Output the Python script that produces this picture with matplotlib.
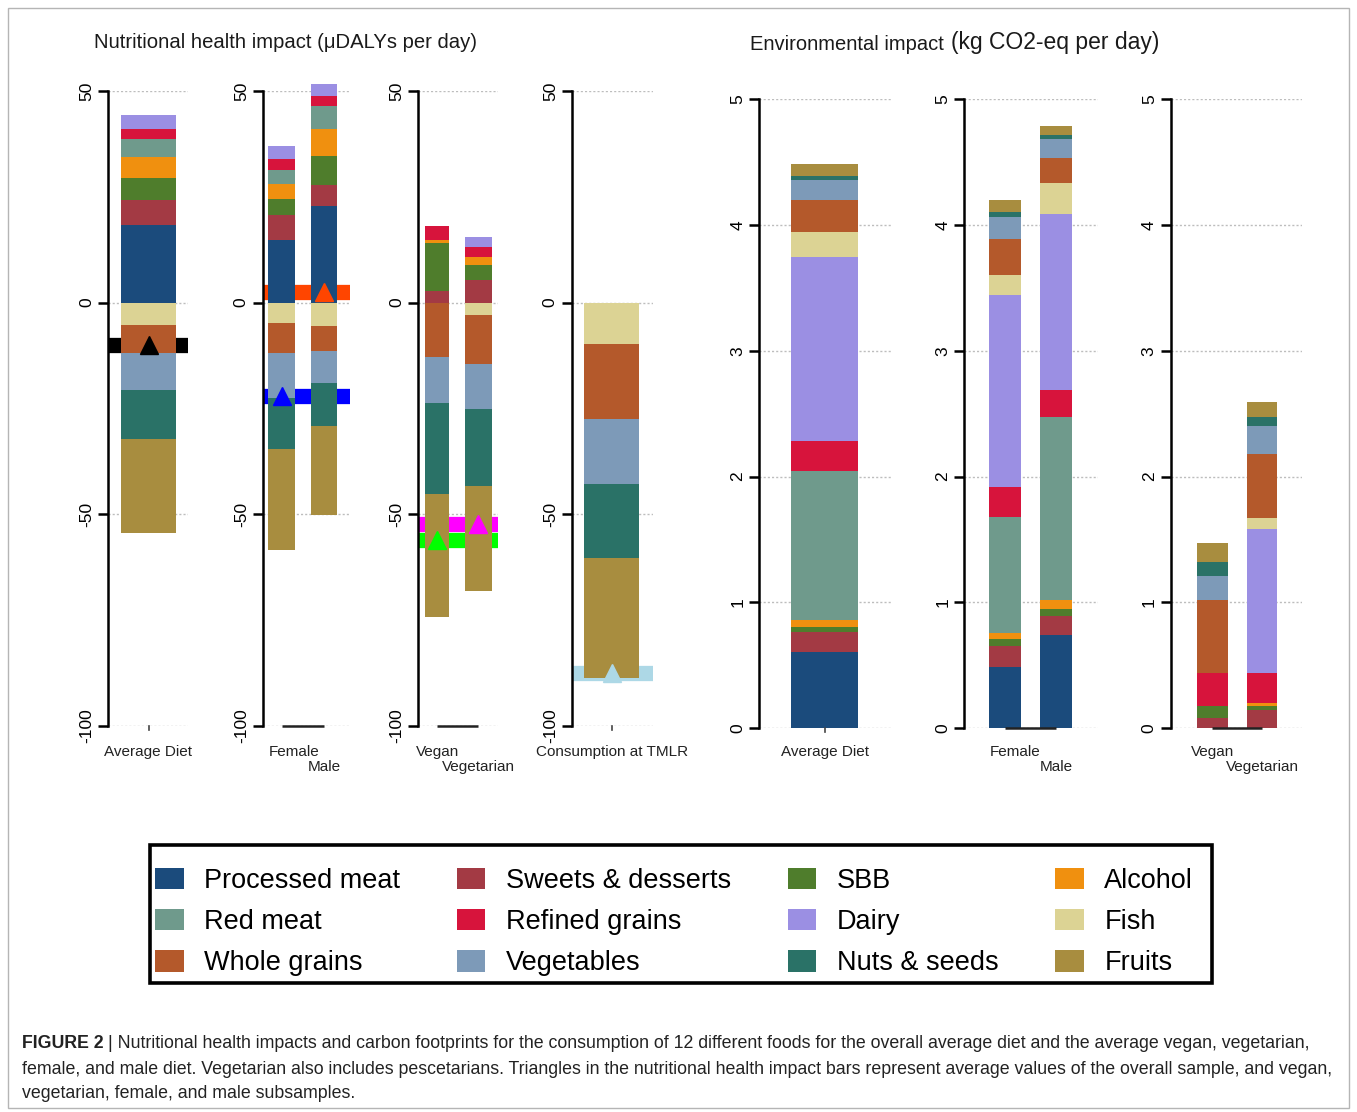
import matplotlib
matplotlib.use('Agg')
import matplotlib.pyplot as plt
from matplotlib.patches import Patch, Rectangle
from matplotlib.transforms import blended_transform_factory

W, H = 1357, 1112

# ---------------- data ----------------
foods = ["Processed meat", "Sweets & desserts", "SBB", "Alcohol",
         "Red meat", "Refined grains", "Dairy", "Fish",
         "Whole grains", "Vegetables", "Nuts & seeds", "Fruits"]
colors = ["#1b4b7c", "#a33a44", "#4f7d2c", "#f0900f",
          "#6f9a8c", "#d7143c", "#9b8fe3", "#dcd394",
          "#b4592b", "#7d9ab8", "#2a7267", "#a88d3f"]

# Nutritional health impact (uDALYs per day), one value per food
nut_average    = [18.3, 5.9, 5.3, 4.9, 4.2, 2.5, 3.2, -5.3, -6.7, -8.6, -11.5, -22.3]
nut_female     = [14.7, 6.0, 3.9, 3.5, 3.2, 2.7, 3.0, -4.7, -7.3, -10.6, -11.9, -24.0]
nut_male       = [22.8, 5.1, 6.8, 6.3, 5.4, 2.5, 2.7, -5.5, -5.8, -7.6, -10.3, -20.9]
nut_vegan      = [0.0, 2.8, 11.4, 0.5, 0.0, 3.4, 0.0, 0.0, -12.8, -10.8, -21.6, -29.1]
nut_vegetarian = [0.0, 5.4, 3.4, 2.0, 0.0, 2.4, 2.4, -2.9, -11.5, -10.7, -18.1, -25.0]
nut_tmlr       = [0.0, 0.0, 0.0, 0.0, 0.0, 0.0, 0.0, -9.7, -17.8, -15.3, -17.5, -28.3]

# average nutritional values of the subsamples (triangles)
mean_average, mean_female, mean_male = -10.0, -22.0, 2.5
mean_vegan, mean_vegetarian, mean_tmlr = -56.0, -52.3, -87.5

# Environmental impact (kg CO2-eq per day), one value per food
env_average    = [0.608, 0.154, 0.045, 0.050, 1.187, 0.240, 1.462, 0.194, 0.256, 0.164, 0.027, 0.093]
env_female     = [0.489, 0.165, 0.053, 0.048, 0.921, 0.238, 1.528, 0.158, 0.286, 0.178, 0.039, 0.093]
env_male       = [0.741, 0.151, 0.053, 0.074, 1.451, 0.217, 1.403, 0.239, 0.206, 0.151, 0.026, 0.077]
env_vegan      = [0.0, 0.085, 0.092, 0.0, 0.0, 0.260, 0.0, 0.0, 0.582, 0.191, 0.113, 0.151]
env_vegetarian = [0.0, 0.145, 0.032, 0.022, 0.0, 0.238, 1.144, 0.087, 0.511, 0.221, 0.075, 0.119]

nut_ticks = [-100, -50, 0, 50]
env_ticks = [0, 1, 2, 3, 4, 5]

# ---------------- figure ----------------
fig = plt.figure(figsize=(W / 100, H / 100), dpi=100)
fig.patch.set_facecolor('white')
SANS = ['Liberation Sans', 'DejaVu Sans']
NARROW = ['Liberation Sans Narrow', 'Liberation Sans', 'DejaVu Sans']

fig.patches.append(Rectangle((8 / W, 1 - 1108 / H), (1349 - 8) / W, (1108 - 8) / H,
                             transform=fig.transFigure, fill=False,
                             edgecolor='#b5b5b5', lw=1.0))


def stacked(ax, x, w, vals):
    pos, neg = 0.0, 0.0
    for v, c in zip(vals, colors):
        if v > 0:
            ax.bar(x, v, w, bottom=pos, color=c, lw=0, zorder=3, clip_on=False)
            pos += v
        elif v < 0:
            ax.bar(x, v, w, bottom=neg, color=c, lw=0, zorder=3, clip_on=False)
            neg += v


def make_panel(ax_x, end_x, y_top, y_bot, ylim, ticks, bars, markers):
    ax = fig.add_axes([ax_x / W, 1 - y_bot / H, (end_x - ax_x) / W, (y_bot - y_top) / H])
    ax.set_xlim(ax_x, end_x)
    ax.set_ylim(*ylim)
    ax.patch.set_alpha(0)
    for s in ['top', 'right', 'bottom']:
        ax.spines[s].set_visible(False)
    ax.spines['left'].set_bounds(ticks[0], ticks[-1])
    ax.spines['left'].set_linewidth(1.8)
    ax.set_xticks([])
    ax.set_yticks(ticks)
    ax.set_yticklabels([str(t) for t in ticks])
    ax.tick_params(axis='y', length=7, width=1.8, labelsize=12.5, pad=3)
    for lab in ax.get_yticklabels():
        lab.set_rotation(90)
        lab.set_va('center')
        lab.set_ha('right')
        lab.set_family(SANS)
    ax.hlines(ticks, ax_x, end_x, colors='#bdbdbd', linestyles=(0, (1.5, 1.5)),
              lw=1.0, zorder=1)
    tr = blended_transform_factory(ax.transData, fig.transFigure)
    centers = []
    for i, (label, vals, xc, w, ha) in enumerate(bars):
        stacked(ax, xc, w, vals)
        centers.append(xc)
        ly = 752 if i == 0 else 767
        tx = xc - w / 2 if ha == 'left' else xc
        ax.text(tx, 1 - ly / H, label, transform=tr, ha=ha, va='center',
                fontsize=11, family=SANS, color='#222222')
    # base line between bar centres
    if len(centers) > 1:
        ax.plot([centers[0], centers[-1]], [ticks[0], ticks[0]], color='#222222',
                lw=1.8, zorder=4, clip_on=False, solid_capstyle='butt')
    else:
        ax.plot([centers[0], centers[0]], [ticks[0], ticks[0] - (ylim[1] - ylim[0]) * 0.006],
                color='#444444', lw=1.2, zorder=4, clip_on=False)
    for (bar_i, val, col) in markers:
        ax.axhline(val, color=col, lw=11, zorder=2, solid_capstyle='butt')
    for (bar_i, val, col) in markers:
        ax.plot(centers[bar_i], val, marker='^', ms=13, color=col, mec=col,
                zorder=6, clip_on=False, ls='none')
    return ax


NY_TOP, NY_BOT = 91, 726
make_panel(108, 188, NY_TOP, NY_BOT, (-100, 50), nut_ticks,
           [("Average Diet", nut_average, 148.5, 55, 'center')],
           [(0, mean_average, 'black')])
make_panel(262.7, 350, NY_TOP, NY_BOT, (-100, 50), nut_ticks,
           [("Female", nut_female, 281.7, 26.7, 'left'),
            ("Male", nut_male, 324.0, 26.7, 'center')],
           [(0, mean_female, '#0000ff'), (1, mean_male, '#ff4500')])
make_panel(418.3, 498, NY_TOP, NY_BOT, (-100, 50), nut_ticks,
           [("Vegan", nut_vegan, 437.2, 24.5, 'center'),
            ("Vegetarian", nut_vegetarian, 478.3, 26.7, 'center')],
           [(1, mean_vegetarian, '#ff00ff'), (0, mean_vegan, '#00ff00')])
make_panel(571.7, 653, NY_TOP, NY_BOT, (-100, 50), nut_ticks,
           [("Consumption at TMLR", nut_tmlr, 611.7, 55.3, 'center')],
           [(0, mean_tmlr, '#add8e6')])

EY_TOP, EY_BOT = 99, 728.3
make_panel(759.3, 890.7, EY_TOP, EY_BOT, (0, 5), env_ticks,
           [("Average Diet", env_average, 824.5, 67.6, 'center')], [])
make_panel(964.3, 1097.7, EY_TOP, EY_BOT, (0, 5), env_ticks,
           [("Female", env_female, 1005.2, 31.7, 'left'),
            ("Male", env_male, 1055.9, 31.7, 'center')], [])
make_panel(1170.7, 1301.7, EY_TOP, EY_BOT, (0, 5), env_ticks,
           [("Vegan", env_vegan, 1212.2, 31.0, 'center'),
            ("Vegetarian", env_vegetarian, 1262.0, 30.6, 'center')], [])

renderer = fig.canvas.get_renderer()


def fit(t, target_px):
    w = t.get_window_extent(renderer).width
    t.set_fontsize(t.get_fontsize() * target_px / w)


# ---------------- titles ----------------
t1 = fig.text(94 / W, 1 - 43 / H, "Nutritional health impact (\u03bcDALYs per day)",
              ha='left', va='center', fontsize=14, family=NARROW, color='#1a1a1a')
fit(t1, 386)
t2 = fig.text(750 / W, 1 - 44 / H, "Environmental impact", ha='left', va='center',
              fontsize=14, family=NARROW, color='#1a1a1a')
fit(t2, 195)
t3 = fig.text(951 / W, 1 - 42 / H, "(kg CO2-eq per day)", ha='left', va='center',
              fontsize=15, family=NARROW, color='#1a1a1a')
fit(t3, 209)

# ---------------- legend ----------------
order = [foods.index(f) for j in range(4) for f in foods[j::4]]
handles = [Patch(facecolor=colors[i], edgecolor='none') for i in order]
labels = [foods[i] for i in order]
fig.legend(handles, labels, ncol=4, loc='center', bbox_to_anchor=(674 / W, 1 - 922 / H),
           frameon=False, prop={'family': SANS, 'size': 19.5},
           handlelength=1.06, handleheight=0.83, handletextpad=0.75,
           columnspacing=2.1, labelspacing=0.57)
fig.patches.append(Rectangle((150 / W, 1 - 983 / H), (1212 - 150) / W, (983 - 845) / H,
                             transform=fig.transFigure, fill=False,
                             edgecolor='black', lw=2.6))

# ---------------- caption ----------------
cap_line1 = ("| Nutritional health impacts and carbon footprints for the consumption of 12 "
             "different foods for the overall average diet and the average vegan, vegetarian,")
cap_line2 = ("female, and male diet. Vegetarian also includes pescetarians. Triangles in the "
             "nutritional health impact bars represent average values of the overall sample, and vegan,")
cap_line3 = "vegetarian, female, and male subsamples."

fs = 12.0
tb = fig.text(22 / W, 1 - 1044 / H, "FIGURE 2 ", ha='left', va='center', fontsize=fs,
              family=NARROW, weight='bold', color='#222222')
tr1 = fig.text(0, 1 - 1044 / H, cap_line1, ha='left', va='center', fontsize=fs,
               family=NARROW, color='#222222')
tl2 = fig.text(22 / W, 1 - 1070 / H, cap_line2, ha='left', va='center', fontsize=fs,
               family=NARROW, color='#222222')
tl3 = fig.text(22 / W, 1 - 1094 / H, cap_line3, ha='left', va='center', fontsize=fs,
               family=NARROW, color='#222222')
w1 = tb.get_window_extent(renderer).width + tr1.get_window_extent(renderer).width
w2 = tl2.get_window_extent(renderer).width
fs = fs * 1313 / max(w1, w2)
for t in (tb, tr1, tl2, tl3):
    t.set_fontsize(fs)
tr1.set_x((22 + tb.get_window_extent(renderer).width) / W)

fig.savefig('out.png', dpi=100, facecolor='white')
